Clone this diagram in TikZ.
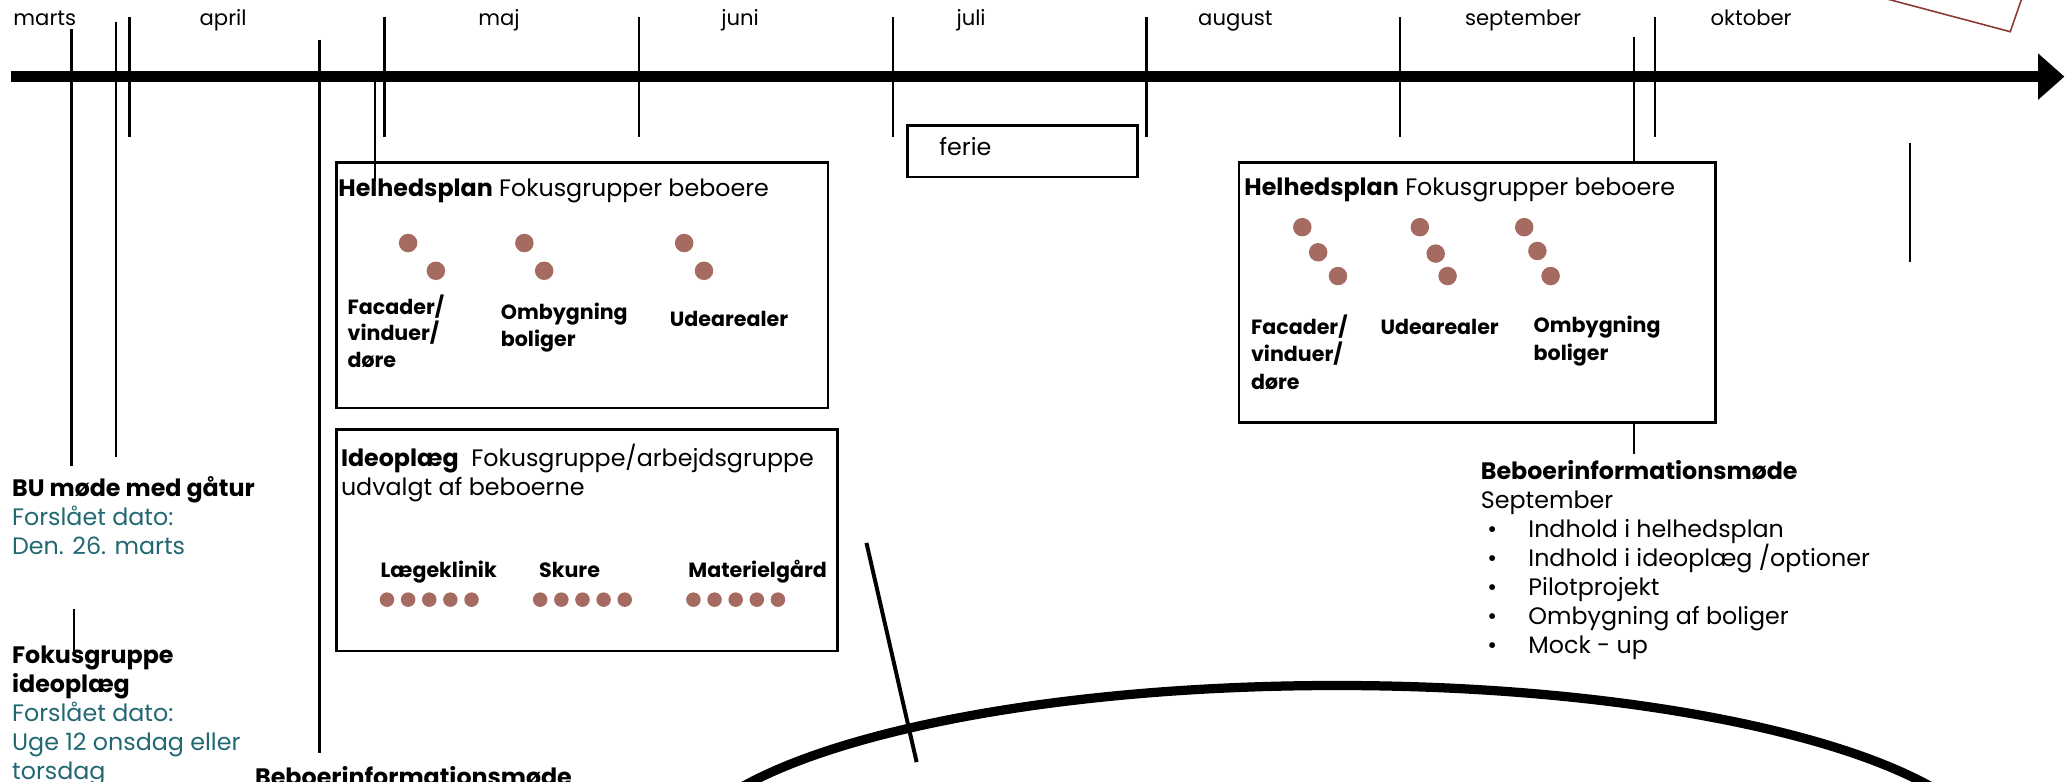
\documentclass[tikz,border=0pt]{standalone}
\usepackage{fontspec}
\setmainfont{Poppins}
\usetikzlibrary{arrows.meta}
\definecolor{colorspot}  {RGB}{165,106,96}
\definecolor{colordate}  {RGB}{34,104,114}
\definecolor{colorframe} {RGB}{140,58,50}

\begin{document}
\begin{tikzpicture}[
    x=1pt, y=-1pt,
    font={\fontsize{18}{22}\selectfont},
    every node/.style={inner sep=0pt, anchor=base west, align=left},
    month/.style={font={\fontsize{16}{20}\selectfont}},
    tick/.style={line width=1.8pt},
    frame/.style={draw, line width=2pt, anchor=north west},
    topic/.style={font={\fontsize{15.6}{20}\selectfont\bfseries}},
    spot/.style={fill=colorspot},
]
    \useasboundingbox (0,0) rectangle (1568,592);

    % tidslinje
    \draw[line width=8pt, -{Triangle[length=20pt,width=34pt]}] (8,58) -- (1563,58);
    \node[month] (marts) at (10,19) {marts};
    \node[month] (april) at (151,19) {april};
    \node[month] (maj) at (362,19) {maj};
    \node[month] (juni) at (546,19) {juni};
    \node[month] (juli) at (724,19) {juli};
    \node[month] (aug) at (907,19) {august};
    \node[month] (sep) at (1109,19) {september};
    \node[month] (okt) at (1295,19) {oktober};
    \foreach \x in {98,291,484,676,868,1060,1253}
        \draw[tick] (\x,13) -- (\x,104);

    % venstre side (base = sidste linje)
    \node (bu) at (9,420) {\textbf{BU møde med gåtur}\\
    \textcolor{colordate}{Forslået dato:}\\
    \textcolor{colordate}{Den. 26. marts}};
    \node (fokus) at (9,590) {\textbf{Fokusgruppe}\\
    \textbf{ideoplæg}\\
    \textcolor{colordate}{Forslået dato:}\\
    \textcolor{colordate}{Uge 12 onsdag eller}\\
    \textcolor{colordate}{torsdag}};
    \node (infoA) at (193,595) {\textbf{Beboerinformationsmøde}};

    \coordinate (buA) at (54,22);
    \coordinate (buB) at (88,17);
    \coordinate (fokusTop) at (56,461);
    \coordinate (infoTop) at (242,30);
    \draw[tick] (buA) -- ([yshift=8pt]buA |- bu.north);
    \draw[tick] (buB) -- ([yshift=15pt]buB |- bu.north);
    \draw[tick] (fokusTop) -- ([yshift=-6pt]fokusTop |- fokus.north);
    \draw[tick] (infoTop) -- ([yshift=25pt]infoTop |- infoA.base);

    % helhedsplan, foraar
    \node[frame, minimum width=372pt, minimum height=186pt] (planA) at (254,122) {};
    \node (helA) at (256,149) {\textbf{Helhedsplan} Fokusgrupper beboere};
    \foreach \x/\y in {309/184,330/205,397/184,412/205,518/184,533/205}
        \fill[spot] (\x,\y) circle (7);
    \node[topic] (facA) at (263,278) {Facader/\\vinduer/\\døre};
    \node[topic] (ombA) at (379,262) {Ombygning\\boliger};
    \node[topic] (udeA) at (507,247) {Udearealer};
    \coordinate (planTop) at (284,62);
    \draw[tick] (planTop) -- ([yshift=12pt]planTop |- helA.base);

    % ideoplaeg
    \node[frame, minimum width=379pt, minimum height=168pt] (ideo) at (254,324) {};
    \node (ideoT) at (258,375) {\textbf{Ideoplæg}\ \ Fokusgruppe/arbejdsgruppe\\
    udvalgt af beboerne};
    \node[topic] (laege) at (288,437) {Lægeklinik};
    \node[topic] (skure) at (408,437) {Skure};
    \node[topic] (mat) at (521,437) {Materielgård};
    \foreach \s in {293,409,525}
        \foreach \i in {0,...,4}
            \fill[spot] (\s+16*\i,454) circle (5.5);

    % ferie
    \node[frame, minimum width=174pt, minimum height=39pt] (ferie) at (686,94) {};
    \node (ferieT) at (711,118) {ferie};

    % helhedsplan, efteraar
    \node[frame, minimum width=361pt, minimum height=197pt] (planB) at (937,122) {};
    \node (helB) at (942,148) {\textbf{Helhedsplan} Fokusgrupper beboere};
    \foreach \x/\y in {986/172,998/191,1013/209,1075/172,1087/192,1096/209,1154/172,1164/190,1174/209}
        \fill[spot] (\x,\y) circle (7);
    \node[topic, font={\fontsize{15.6}{21}\selectfont\bfseries}] (facB) at (947,295) {Facader/\\vinduer/\\døre};
    \node[topic] (udeB) at (1045,253) {Udearealer};
    \node[topic, font={\fontsize{15.6}{21}\selectfont\bfseries}] (ombB) at (1161,273) {Ombygning\\boliger};

    \node (infoB) at (1121,495) {\textbf{Beboerinformationsmøde}\\
    September\\
    \makebox[36pt][l]{\hspace{5pt}•}Indhold i helhedsplan\\
    \makebox[36pt][l]{\hspace{5pt}•}Indhold i ideoplæg /optioner\\
    \makebox[36pt][l]{\hspace{5pt}•}Pilotprojekt\\
    \makebox[36pt][l]{\hspace{5pt}•}Ombygning af boliger\\
    \makebox[36pt][l]{\hspace{5pt}•}Mock - up};
    \coordinate (sepTop) at (1237,28);
    \coordinate (sepEnd) at (1237,344);
    \draw[tick] (sepTop) -- (sepTop |- planB.north);
    \draw[tick] (planB.south -| sepEnd) -- (sepEnd);

    % oevrige streger
    \draw[tick] (1446,108) -- (1446,198);
    \draw[line width=3pt] (656,411) -- (694,577);
    \draw[line width=7pt] (1012,655) ellipse [x radius=500, y radius=136];
    \draw[colorframe, line width=1.2pt] (1424,-2) -- (1522,24) -- (1531,-2);
\end{tikzpicture}
\end{document}
